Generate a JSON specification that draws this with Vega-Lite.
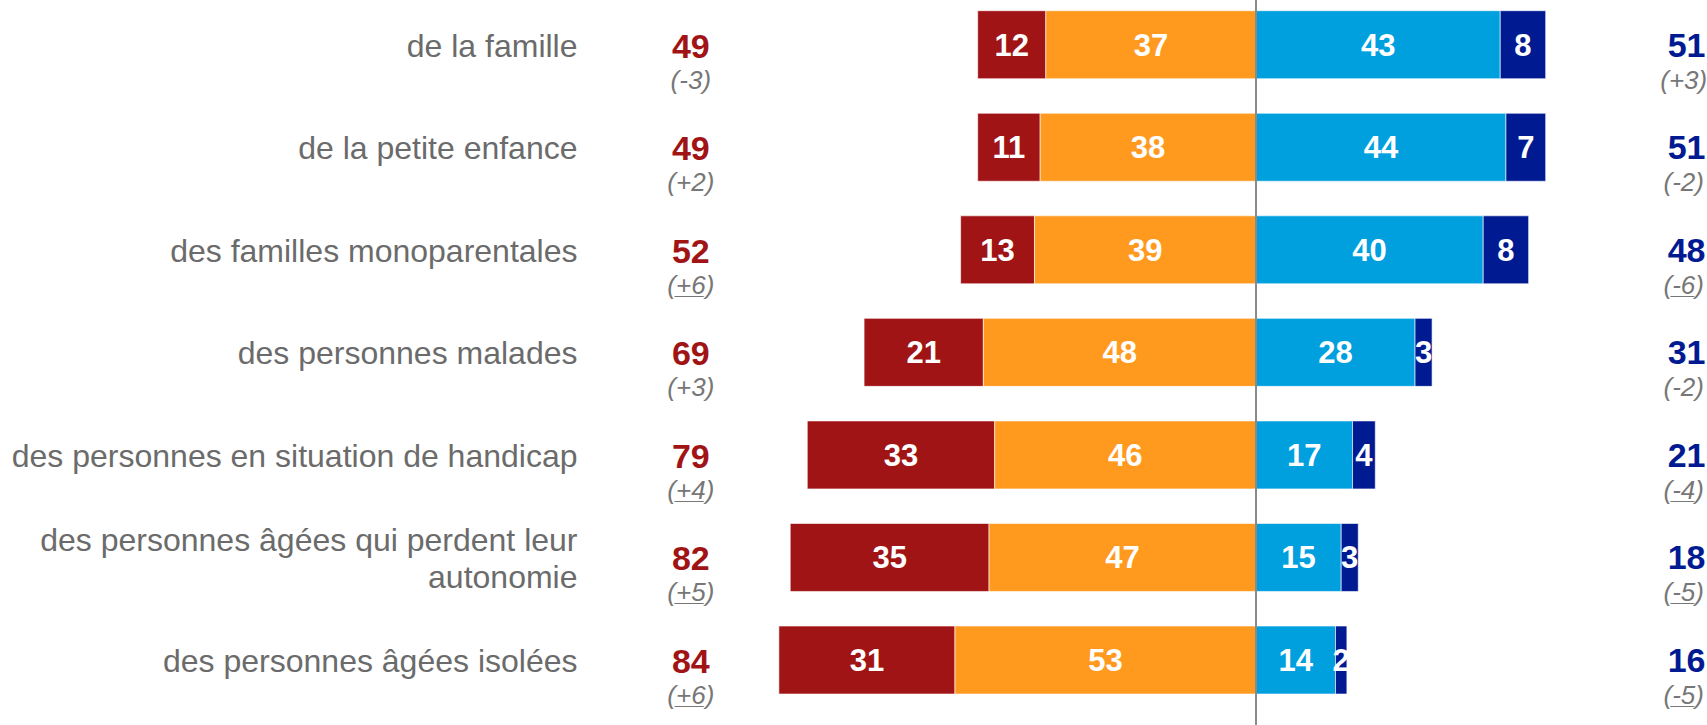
{
  "$schema": "https://vega.github.io/schema/vega-lite/v6.json",
  "autosize": "none",
  "padding": {"left": 587, "top": 0, "right": 0, "bottom": 0},
  "width": 1120,
  "height": 725,
  "background": "white",
  "config": {"view": {"stroke": null}, "font": "Liberation Sans"},
  "datasets": {
    "bars": [
      {"item": "de la famille", "cat": "Très mal", "val": -12, "pct": 12},
      {"item": "de la famille", "cat": "Plutôt mal", "val": -37, "pct": 37},
      {"item": "de la famille", "cat": "Plutôt bien", "val": 43, "pct": 43},
      {"item": "de la famille", "cat": "Très bien", "val": 8, "pct": 8},
      {"item": "de la petite enfance", "cat": "Très mal", "val": -11, "pct": 11},
      {"item": "de la petite enfance", "cat": "Plutôt mal", "val": -38, "pct": 38},
      {"item": "de la petite enfance", "cat": "Plutôt bien", "val": 44, "pct": 44},
      {"item": "de la petite enfance", "cat": "Très bien", "val": 7, "pct": 7},
      {"item": "des familles monoparentales", "cat": "Très mal", "val": -13, "pct": 13},
      {"item": "des familles monoparentales", "cat": "Plutôt mal", "val": -39, "pct": 39},
      {"item": "des familles monoparentales", "cat": "Plutôt bien", "val": 40, "pct": 40},
      {"item": "des familles monoparentales", "cat": "Très bien", "val": 8, "pct": 8},
      {"item": "des personnes malades", "cat": "Très mal", "val": -21, "pct": 21},
      {"item": "des personnes malades", "cat": "Plutôt mal", "val": -48, "pct": 48},
      {"item": "des personnes malades", "cat": "Plutôt bien", "val": 28, "pct": 28},
      {"item": "des personnes malades", "cat": "Très bien", "val": 3, "pct": 3},
      {"item": "des personnes en situation de handicap", "cat": "Très mal", "val": -33, "pct": 33},
      {"item": "des personnes en situation de handicap", "cat": "Plutôt mal", "val": -46, "pct": 46},
      {"item": "des personnes en situation de handicap", "cat": "Plutôt bien", "val": 17, "pct": 17},
      {"item": "des personnes en situation de handicap", "cat": "Très bien", "val": 4, "pct": 4},
      {"item": "des personnes âgées qui perdent leur autonomie", "cat": "Très mal", "val": -35, "pct": 35},
      {"item": "des personnes âgées qui perdent leur autonomie", "cat": "Plutôt mal", "val": -47, "pct": 47},
      {"item": "des personnes âgées qui perdent leur autonomie", "cat": "Plutôt bien", "val": 15, "pct": 15},
      {"item": "des personnes âgées qui perdent leur autonomie", "cat": "Très bien", "val": 3, "pct": 3},
      {"item": "des personnes âgées isolées", "cat": "Très mal", "val": -31, "pct": 31},
      {"item": "des personnes âgées isolées", "cat": "Plutôt mal", "val": -53, "pct": 53},
      {"item": "des personnes âgées isolées", "cat": "Plutôt bien", "val": 14, "pct": 14},
      {"item": "des personnes âgées isolées", "cat": "Très bien", "val": 2, "pct": 2}
    ],
    "totals": [
      {"item": "de la famille", "mal": 49, "cmal": "(-3)", "smal": false, "bien": 51, "cbien": "(+3)", "sbien": false},
      {"item": "de la petite enfance", "mal": 49, "cmal": "(+2)", "smal": false, "bien": 51, "cbien": "(-2)", "sbien": false},
      {"item": "des familles monoparentales", "mal": 52, "cmal": "(+6)", "smal": true, "bien": 48, "cbien": "(-6)", "sbien": true},
      {"item": "des personnes malades", "mal": 69, "cmal": "(+3)", "smal": false, "bien": 31, "cbien": "(-2)", "sbien": false},
      {"item": "des personnes en situation de handicap", "mal": 79, "cmal": "(+4)", "smal": true, "bien": 21, "cbien": "(-4)", "sbien": true},
      {"item": "des personnes âgées qui perdent leur autonomie", "mal": 82, "cmal": "(+5)", "smal": true, "bien": 18, "cbien": "(-5)", "sbien": true},
      {"item": "des personnes âgées isolées", "mal": 84, "cmal": "(+6)", "smal": true, "bien": 16, "cbien": "(-5)", "sbien": true}
    ]
  },
  "layer": [
    {
      "data": {"name": "bars"},
      "mark": {"type": "bar", "stroke": "white", "strokeWidth": 1, "strokeOpacity": 0.6},
      "encoding": {
        "y": {
          "field": "item",
          "type": "nominal",
          "sort": null,
          "scale": {
            "domain": ["de la famille", "de la petite enfance", "des familles monoparentales", "des personnes malades", "des personnes en situation de handicap", "des personnes âgées qui perdent leur autonomie", "des personnes âgées isolées"],
            "paddingInner": 0.337,
            "paddingOuter": 0.2033,
            "align": 0.257
          },
          "axis": {
            "title": null,
            "ticks": false,
            "tickSize": 0,
            "domain": false,
            "grid": false,
            "labelPadding": 10,
            "labelFontSize": 32,
            "labelColor": "#6b6b6b",
            "labelFont": "Liberation Sans",
            "labelLimit": 700,
            "labelLineHeight": 37,
            "labelOffset": {"condition": {"test": "length(datum.value) > 40", "value": -16}, "value": 2},
            "labelExpr": "length(datum.label) > 40 ? [substring(datum.label, 0, lastindexof(datum.label, ' ')), substring(datum.label, lastindexof(datum.label, ' ') + 1)] : datum.label"
          }
        },
        "x": {"field": "val", "type": "quantitative", "stack": "zero", "scale": {"domain": [-117.78, 79.4], "nice": false, "zero": false}, "axis": null},
        "color": {
          "field": "cat",
          "type": "nominal",
          "scale": {"domain": ["Très mal", "Plutôt mal", "Plutôt bien", "Très bien"], "range": ["#A11416", "#FF9A1F", "#00A0DF", "#001A92"]},
          "legend": null
        },
        "order": {"field": "cat", "sort": "ascending"}
      }
    },
    {
      "data": {"name": "bars"},
      "mark": {"type": "text", "fontSize": 31, "fontWeight": "bold", "color": "white", "baseline": "alphabetic", "dy": 11},
      "encoding": {
        "y": {"field": "item", "type": "nominal", "sort": null},
        "x": {"field": "val", "type": "quantitative", "stack": "zero", "bandPosition": 0.5},
        "text": {"field": "pct", "type": "quantitative"},
        "detail": {"field": "cat"},
        "order": {"field": "cat", "sort": "ascending"}
      }
    },
    {
      "data": {"values": [{"zero": 0}]},
      "mark": {"type": "rule", "color": "#8a8a8a", "strokeWidth": 2},
      "encoding": {"x": {"field": "zero", "type": "quantitative"}}
    },
    {
      "data": {"name": "totals"},
      "mark": {"type": "text", "fontSize": 34, "fontWeight": "bold", "color": "#A11416", "baseline": "alphabetic", "dy": 13},
      "encoding": {"y": {"field": "item", "type": "nominal", "sort": null}, "x": {"datum": -99.5}, "text": {"field": "mal", "type": "quantitative"}}
    },
    {
      "data": {"name": "totals"},
      "mark": {"type": "text", "fontSize": 26, "fontStyle": "italic", "color": "#777777", "baseline": "alphabetic", "dy": 44},
      "encoding": {"y": {"field": "item", "type": "nominal", "sort": null}, "x": {"datum": -99.5}, "text": {"field": "cmal"}}
    },
    {
      "data": {"name": "totals"},
      "transform": [{"filter": "datum.smal"}],
      "mark": {"type": "text", "fontSize": 26, "fontStyle": "italic", "color": "#777777", "baseline": "alphabetic", "dy": 44, "text": "__"},
      "encoding": {"y": {"field": "item", "type": "nominal", "sort": null}, "x": {"datum": -99.5}}
    },
    {
      "data": {"name": "totals"},
      "mark": {"type": "text", "fontSize": 34, "fontWeight": "bold", "color": "#001A92", "baseline": "alphabetic", "dy": 12},
      "encoding": {"y": {"field": "item", "type": "nominal", "sort": null}, "x": {"datum": 75.8}, "text": {"field": "bien", "type": "quantitative"}}
    },
    {
      "data": {"name": "totals"},
      "mark": {"type": "text", "fontSize": 26, "fontStyle": "italic", "color": "#777777", "baseline": "alphabetic", "dy": 44},
      "encoding": {"y": {"field": "item", "type": "nominal", "sort": null}, "x": {"datum": 75.3}, "text": {"field": "cbien"}}
    },
    {
      "data": {"name": "totals"},
      "transform": [{"filter": "datum.sbien"}],
      "mark": {"type": "text", "fontSize": 21, "fontStyle": "italic", "color": "#777777", "baseline": "alphabetic", "dy": 44, "text": "__"},
      "encoding": {"y": {"field": "item", "type": "nominal", "sort": null}, "x": {"datum": 75.3}}
    }
  ]
}
